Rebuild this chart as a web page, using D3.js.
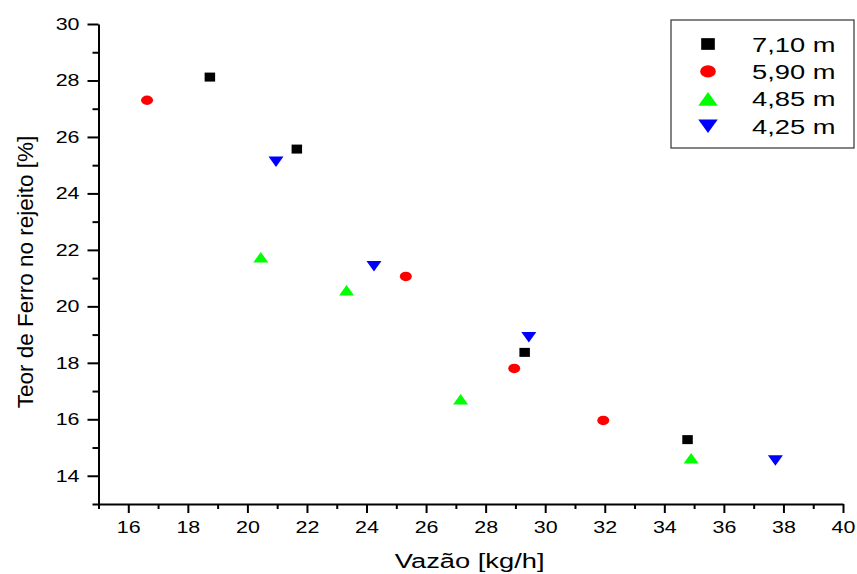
<!DOCTYPE html>
<html>
<head>
<meta charset="utf-8">
<script src="https://cdn.jsdelivr.net/npm/d3@7"></script>
<style>
  html, body { margin: 0; padding: 0; background: #fff; }
  text { font-family: "Liberation Sans", Arial, sans-serif; }
</style>
</head>
<body>
<svg id="chart" width="857" height="574"></svg>
<script>
// series
var seriesNames = ["7,10 m", "5,90 m", "4,85 m", "4,25 m"];
var seriesColors = ["#000000", "#ff0000", "#00ff00", "#0000ff"];
var seriesShapes = ["square", "circle", "up", "down"];

var vazao710 = [18.74, 21.66, 29.31, 34.78];
var teor710  = [28.12, 25.57, 18.37, 15.28];
var vazao590 = [16.63, 25.32, 28.96, 31.95];
var teor590  = [27.30, 21.06, 17.80, 15.96];
var vazao485 = [20.45, 23.33, 27.16, 34.90];
var teor485  = [21.74, 20.57, 16.71, 14.62];
var vazao425 = [20.96, 24.25, 29.45, 37.73];
var teor425  = [25.12, 21.42, 18.91, 14.54];

var xMajor = d3.range(16, 41, 2);
var xMinor = d3.range(15, 40, 2);
var yMajor = d3.range(14, 31, 2);
var yMinor = d3.range(13, 30, 2);

var xTitle = "Vazão [kg/h]";
var yTitle = "Teor de Ferro no rejeito [%]";

var seriesX = [vazao710, vazao590, vazao485, vazao425];
var seriesY = [teor710, teor590, teor485, teor425];

// the original picture is stretched sideways, so text gets the same treatment
var stretch = 1.3;

var margin = {left: 98.5, top: 24, right: 14, bottom: 70};
var width = 857 - margin.left - margin.right;
var height = 574 - margin.top - margin.bottom;

var svg = d3.select("#chart");
var g = svg.append("g")
  .attr("transform", "translate(" + margin.left + "," + margin.top + ")");

var x = d3.scaleLinear().domain([15, 40]).range([0, width]);
var y = d3.scaleLinear().domain([13, 30]).range([height, 0]);

// unit shapes, scaled per marker to the squat look of the original
var shapeTypes = {
  square: {draw: function (c) { c.rect(-0.5, -0.5, 1, 1); }},
  circle: {draw: function (c) { c.moveTo(0.5, 0); c.arc(0, 0, 0.5, 0, 2 * Math.PI); }},
  up: {draw: function (c) { c.moveTo(0, -0.5); c.lineTo(0.5, 0.5); c.lineTo(-0.5, 0.5); c.closePath(); }},
  down: {draw: function (c) { c.moveTo(0, 0.5); c.lineTo(0.5, -0.5); c.lineTo(-0.5, -0.5); c.closePath(); }}
};
var shapeDims = {
  square: [10.5, 9],
  circle: [12, 9.5],
  up: [15, 10.5],
  down: [15, 10.5]
};

function markerTransform(shape, px, py, k) {
  var d = shapeDims[shape];
  return "translate(" + px + "," + py + ") scale(" + (d[0] * k) + "," + (d[1] * k) + ")";
}

// x axis: major + minor ticks
var xAxisG = g.append("g")
  .attr("transform", "translate(0," + height + ")");

xAxisG.append("g")
  .call(d3.axisBottom(x).tickValues(xMinor).tickFormat("").tickSize(5).tickSizeOuter(0))
  .call(function (s) { s.select(".domain").remove(); });

xAxisG.append("g")
  .call(d3.axisBottom(x).tickValues(xMajor).tickFormat(d3.format("d"))
    .tickSize(9).tickSizeOuter(0).tickPadding(8.7))
  .call(function (s) {
    s.selectAll("text")
      .attr("font-size", 16.5)
      .attr("transform", "scale(" + stretch + ",1)");
  });

// y axis: major + minor ticks
var yAxisG = g.append("g");

yAxisG.append("g")
  .call(d3.axisLeft(y).tickValues(yMinor).tickFormat("").tickSize(6).tickSizeOuter(0))
  .call(function (s) { s.select(".domain").remove(); });

yAxisG.append("g")
  .call(d3.axisLeft(y).tickValues(yMajor).tickFormat(d3.format("d"))
    .tickSize(11).tickSizeOuter(0).tickPadding(3.6))
  .call(function (s) {
    s.selectAll("text")
      .attr("font-size", 16.5)
      .attr("transform", "scale(" + stretch + ",1)");
  });

svg.selectAll(".domain, .tick line")
  .attr("stroke", "#000")
  .attr("stroke-width", 2);
svg.selectAll(".tick text").attr("fill", "#000");

// axis titles
svg.append("text")
  .attr("transform", "translate(469.7,568) scale(" + stretch + ",1)")
  .attr("text-anchor", "middle")
  .attr("font-size", 21)
  .text(xTitle);

svg.append("text")
  .attr("transform", "translate(33,272) rotate(-90)")
  .attr("text-anchor", "middle")
  .attr("font-size", 22.5)
  .text(yTitle);

// markers
seriesNames.forEach(function (name, i) {
  var pts = seriesX[i].map(function (v, j) { return [v, seriesY[i][j]]; });
  g.append("g")
    .selectAll("path")
    .data(pts)
    .join("path")
    .attr("d", d3.symbol(shapeTypes[seriesShapes[i]], 1))
    .attr("transform", function (d) {
      return markerTransform(seriesShapes[i], x(d[0]), y(d[1]), 1);
    })
    .attr("fill", seriesColors[i]);
});

// legend
var legend = svg.append("g").attr("transform", "translate(671,20)");
legend.append("rect")
  .attr("width", 183)
  .attr("height", 128)
  .attr("fill", "#fff")
  .attr("stroke", "#333")
  .attr("stroke-width", 1.2);

var rows = legend.selectAll("g.row")
  .data(seriesNames)
  .join("g")
  .attr("class", "row")
  .attr("transform", function (d, i) { return "translate(0," + (24 + i * 27.4) + ")"; });

rows.append("path")
  .attr("d", function (d, i) { return d3.symbol(shapeTypes[seriesShapes[i]], 1)(); })
  .attr("transform", function (d, i) { return markerTransform(seriesShapes[i], 37, 0, 1.3); })
  .attr("fill", function (d, i) { return seriesColors[i]; });

rows.append("text")
  .attr("transform", "translate(81,7.5) scale(" + stretch + ",1)")
  .attr("font-size", 21)
  .attr("fill", "#000")
  .text(function (d) { return d; });
</script>
</body>
</html>
